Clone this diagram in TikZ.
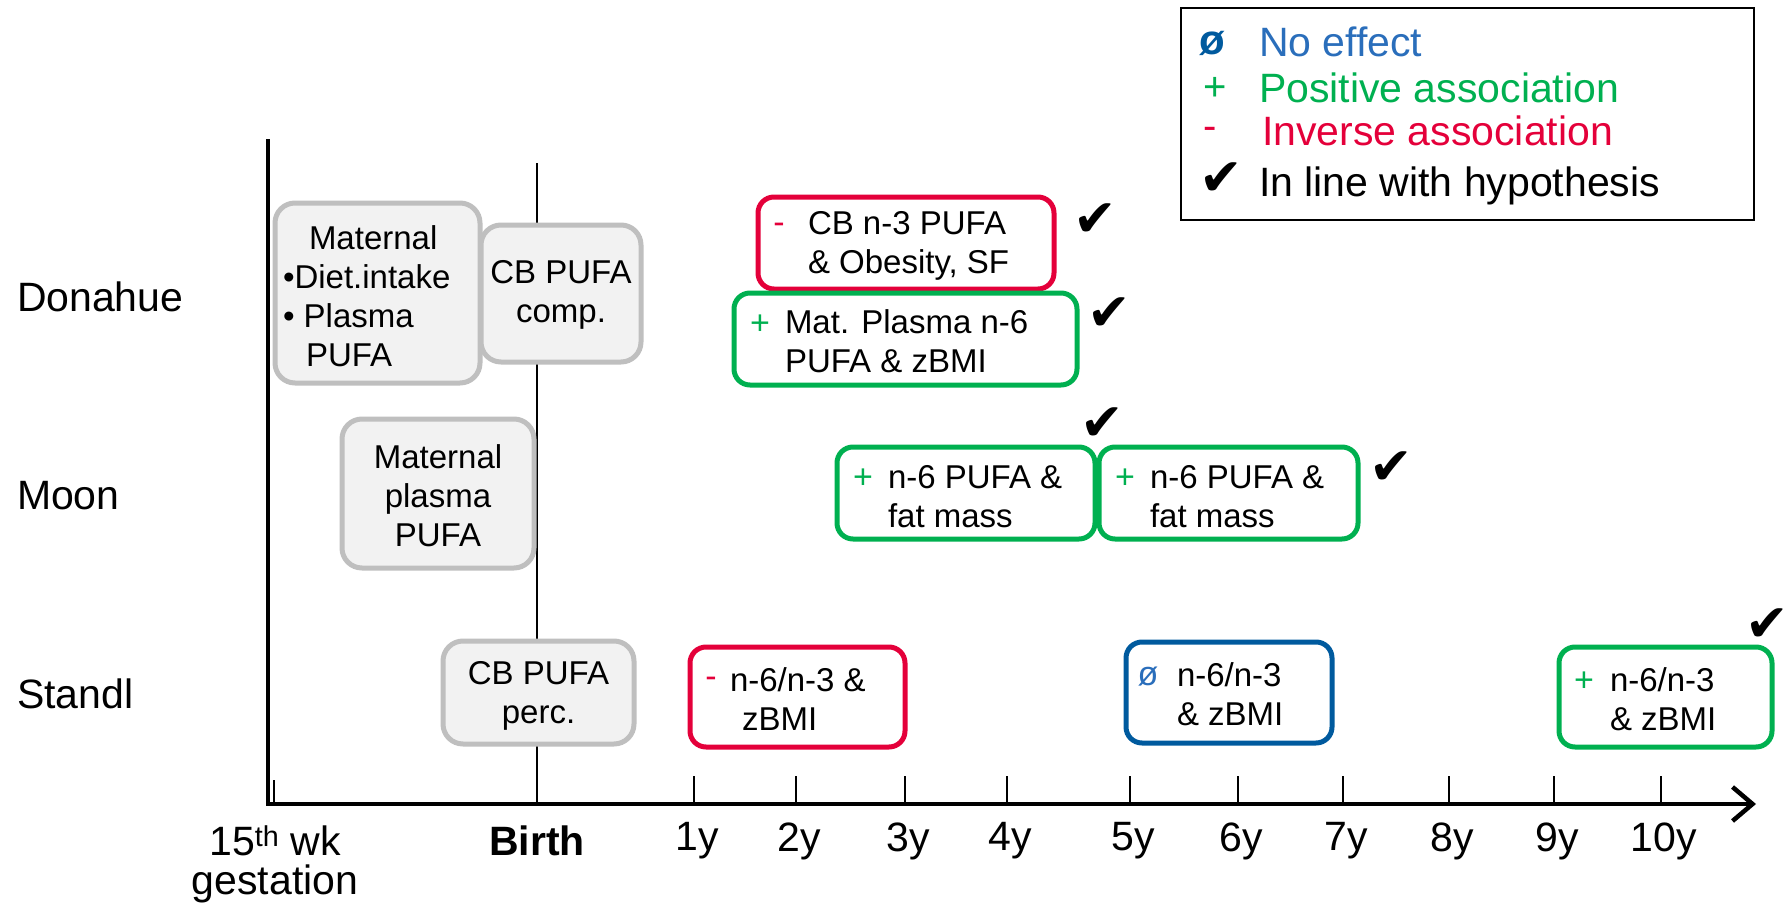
\documentclass[tikz,border=0pt]{standalone}
\usepackage{fontspec}
\setmainfont{Liberation Sans}
\newfontfamily\tickfont{DejaVu Sans}
\usetikzlibrary{arrows.meta}
\definecolor{invred}{HTML}{E4003A}
\definecolor{posgreen}{HTML}{00B050}
\definecolor{nulblue}{HTML}{005A9E}
\definecolor{legblue}{HTML}{2A6EBB}
\definecolor{stagefill}{HTML}{F2F2F2}
\definecolor{stagedraw}{HTML}{BFBFBF}

\begin{document}
\begin{tikzpicture}[x=1pt,y=-1pt,
	every node/.style={inner sep=0pt,outer sep=0pt},
	stage/.style={draw=stagedraw,fill=stagefill,line width=5pt,rounded corners=20pt},
	result/.style={line width=5pt,rounded corners=16pt},
	txt/.style={font=\fontsize{33}{39}\selectfont},
	sign/.style={font=\fontsize{34}{36}\selectfont},
	lab/.style={font=\fontsize{41}{46}\selectfont},
	ok/.style={font=\tickfont\fontsize{52}{54}\selectfont}]

	\useasboundingbox (0,0) rectangle (1789,905);

	% axes
	\draw[line width=2.5pt] (537,163) -- (537,804);
	\draw[line width=4pt] (268,139) -- (268,806);
	\draw[line width=4.5pt,-{Straight Barb[length=20pt,width=34pt]}] (266,804) -- (1756,804);
	\draw[line width=2.5pt] (274,780) -- (274,804);
	\foreach \yr/\xx in
	{1/694, 2/796, 3/905, 4/1007, 5/1130, 6/1238, 7/1343, 8/1449, 9/1554, 10/1661}{
		\draw[line width=2.5pt] (\xx,776) -- (\xx,804);
		\node[lab] (yr\yr) at (\xx+3,841) {\yr y};
	}
	\node[lab] (wk) at (275,841) {15\textsuperscript{th} wk};
	\node[lab] (gest) at (275,884) {gestation};
	\node[lab,font=\fontsize{41}{46}\selectfont\bfseries] (birth) at (537,841) {Birth};

	% studies
	\node[lab,anchor=west] (donahue) at (17,297) {Donahue};
	\node[lab,anchor=west] (moon) at (17,496) {Moon};
	\node[lab,anchor=west] (standl) at (17,694) {Standl};

	% Donahue
	\node[stage,minimum width=205,minimum height=180] (donmat) at (377.5,293) {};
	\node[stage,minimum width=160,minimum height=137] (doncb) at (561,293.5) {};
	\node[txt,align=left,anchor=west] (donmattxt) at (283,296)
		{\hspace*{26pt}Maternal\\•Diet.intake\\• Plasma\\\hspace*{23pt}PUFA};
	\node[txt,align=center] (doncbtxt) at (561,295) {CB PUFA\\comp.};

	\node[result,draw=invred,minimum width=296,minimum height=92] (donneg) at (906,243) {};
	\node[sign,text=invred] (donnegs) at (779,228) {-};
	\node[txt,align=left,anchor=west] (donnegtxt) at (808,246) {CB n-3 PUFA\\\& Obesity, SF};
	\node[ok] (donnegok) at (1095,220) {✔};

	\node[result,draw=posgreen,minimum width=343,minimum height=92] (donpos) at (905.5,339) {};
	\node[sign,text=posgreen] (donposs) at (760,325) {+};
	\node[txt,align=left,anchor=west] (donpostxt) at (785,341) {Mat. Plasma n-6\\PUFA \& zBMI};
	\node[ok] (donposok) at (1109,314) {✔};

	% Moon
	\node[stage,minimum width=192,minimum height=149] (moonmat) at (438,493.5) {};
	\node[txt,align=center] (moonmattxt) at (438,495.5) {Maternal\\plasma\\PUFA};

	\node[result,draw=posgreen,minimum width=258,minimum height=92] (moonposa) at (966,493) {};
	\node[sign,text=posgreen] (moonposas) at (863,479) {+};
	\node[txt,align=left,anchor=west] (moonposatxt) at (888,496.5) {n-6 PUFA \&\\fat mass};
	\node[ok] (moonposaok) at (1102,424) {✔};

	\node[result,draw=posgreen,minimum width=259,minimum height=92] (moonposb) at (1228.5,493) {};
	\node[sign,text=posgreen] (moonposbs) at (1125,479) {+};
	\node[txt,align=left,anchor=west] (moonposbtxt) at (1150,496.5) {n-6 PUFA \&\\fat mass};
	\node[ok] (moonposbok) at (1391,468) {✔};

	% Standl
	\node[stage,minimum width=191,minimum height=103] (stacb) at (538.5,692.5) {};
	\node[txt,align=center] (stacbtxt) at (538.5,695.5) {CB PUFA\\perc.};

	\node[result,draw=invred,minimum width=215,minimum height=100] (staneg) at (797.5,697) {};
	\node[sign,text=invred] (stanegs) at (711,682) {-};
	\node[txt,align=left,anchor=west] (stanegtxt) at (730,699.5) {n-6/n-3 \&\\\hspace*{12pt}zBMI};

	\node[result,draw=nulblue,minimum width=206,minimum height=101] (stanul) at (1229,692.5) {};
	\node[sign,text=legblue] (stanuls) at (1148,677) {ø};
	\node[txt,align=left,anchor=west] (stanultxt) at (1177,694.5) {n-6/n-3\\\& zBMI};

	\node[result,draw=posgreen,minimum width=213,minimum height=100] (stapos) at (1665.5,697) {};
	\node[sign,text=posgreen] (staposs) at (1584,682) {+};
	\node[txt,align=left,anchor=west] (stapostxt) at (1610,699.5) {n-6/n-3\\\& zBMI};
	\node[ok] (staposok) at (1767,625) {✔};

	% legend
	\node[draw,line width=2.5pt,minimum width=573,minimum height=212] (legend) at (1467.5,114) {};
	\node[lab,text=nulblue,font=\fontsize{42}{44}\selectfont\bfseries] (legnul) at (1212,43) {ø};
	\node[lab,text=legblue,anchor=west] (legnultxt) at (1259,42) {No effect};
	\node[lab,text=posgreen,font=\fontsize{40}{42}\selectfont] (legpos) at (1215,89) {+};
	\node[lab,text=posgreen,anchor=west] (legpostxt) at (1259,88) {Positive association};
	\node[lab,text=invred,font=\fontsize{40}{42}\selectfont] (legneg) at (1210,133) {-};
	\node[lab,text=invred,anchor=west] (legnegtxt) at (1262,131) {Inverse association};
	\node[ok] (legok) at (1221,179) {✔};
	\node[lab,anchor=west] (legoktxt) at (1259,186) {In line with hypothesis};
\end{tikzpicture}
\end{document}
